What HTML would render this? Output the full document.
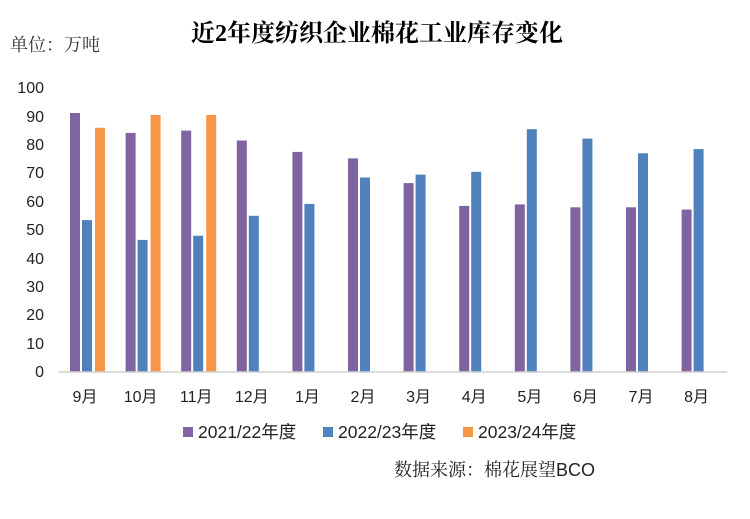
<!DOCTYPE html>
<html><head><meta charset="utf-8"><style>body{margin:0;background:#fff}svg{display:block}text{font-family:"Liberation Sans","Noto Sans CJK SC",sans-serif}.s{font-family:"Liberation Serif","Noto Serif CJK SC",serif}</style></head><body>
<svg width="750" height="519" xmlns="http://www.w3.org/2000/svg">
<rect width="750" height="519" fill="#fff"/>
<text class="s" x="377" y="41" text-anchor="middle" font-size="24" font-weight="bold" fill="#000">近2年度纺织企业棉花工业库存变化</text>
<text class="s" x="10" y="51" font-size="18" fill="#333">单位：万吨</text>
<g font-size="16" fill="#222" text-anchor="end">
<text x="44" y="377">0</text><text x="44" y="349">10</text><text x="44" y="320">20</text><text x="44" y="292">30</text><text x="44" y="264">40</text><text x="44" y="235">50</text><text x="44" y="207">60</text><text x="44" y="178">70</text><text x="44" y="150">80</text><text x="44" y="122">90</text><text x="44" y="93">100</text>
</g>
<g fill="#8064a2">
<rect x="70" y="113" width="10" height="259"/>
<rect x="125.6" y="132.9" width="10" height="239.1"/>
<rect x="181.2" y="130.6" width="10" height="241.4"/>
<rect x="236.8" y="140.5" width="10" height="231.5"/>
<rect x="292.4" y="151.9" width="10" height="220.1"/>
<rect x="348" y="158.4" width="10" height="213.6"/>
<rect x="403.6" y="183.1" width="10" height="188.9"/>
<rect x="459.2" y="205.9" width="10" height="166.1"/>
<rect x="514.8" y="204.4" width="10" height="167.6"/>
<rect x="570.4" y="207.3" width="10" height="164.7"/>
<rect x="626" y="207.3" width="10" height="164.7"/>
<rect x="681.6" y="209.6" width="10" height="162.4"/>
</g>
<g fill="#4f81bd">
<rect x="82" y="220.1" width="10" height="151.9"/>
<rect x="137.6" y="239.9" width="10" height="132.1"/>
<rect x="193.2" y="235.7" width="10" height="136.3"/>
<rect x="248.8" y="215.8" width="10" height="156.2"/>
<rect x="304.4" y="203.9" width="10" height="168.1"/>
<rect x="360" y="177.5" width="10" height="194.5"/>
<rect x="415.6" y="174.6" width="10" height="197.4"/>
<rect x="471.2" y="171.8" width="10" height="200.2"/>
<rect x="526.8" y="129.2" width="10" height="242.8"/>
<rect x="582.4" y="138.6" width="10" height="233.4"/>
<rect x="638" y="153.3" width="10" height="218.7"/>
<rect x="693.6" y="149.1" width="10" height="222.9"/>
</g>
<g fill="#f79646">
<rect x="95" y="127.8" width="10" height="244.2"/>
<rect x="150.6" y="115" width="10" height="257"/>
<rect x="206.2" y="115" width="10" height="257"/>
</g>
<line x1="58" y1="372" x2="727" y2="372" stroke="#d0d0d0" stroke-width="1.5"/>
<g font-size="16" fill="#222" text-anchor="middle">
<text x="85" y="402">9月</text><text x="140.6" y="402">10月</text><text x="196.2" y="402">11月</text><text x="251.8" y="402">12月</text><text x="307.4" y="402">1月</text><text x="363" y="402">2月</text><text x="418.6" y="402">3月</text><text x="474.2" y="402">4月</text><text x="529.8" y="402">5月</text><text x="585.4" y="402">6月</text><text x="641" y="402">7月</text><text x="696.6" y="402">8月</text>
</g>
<g font-size="17.5" fill="#222">
<rect x="183" y="427" width="10" height="10" fill="#8064a2"/><text x="198" y="438">2021/22年度</text>
<rect x="323" y="427" width="10" height="10" fill="#4f81bd"/><text x="338" y="438">2022/23年度</text>
<rect x="463" y="427" width="10" height="10" fill="#f79646"/><text x="478" y="438">2023/24年度</text>
</g>
<text class="s" x="394" y="476" font-size="18" fill="#222">数据来源：棉花展望<tspan style="font-family:'Liberation Sans',sans-serif">BCO</tspan></text>
</svg>
</body></html>
